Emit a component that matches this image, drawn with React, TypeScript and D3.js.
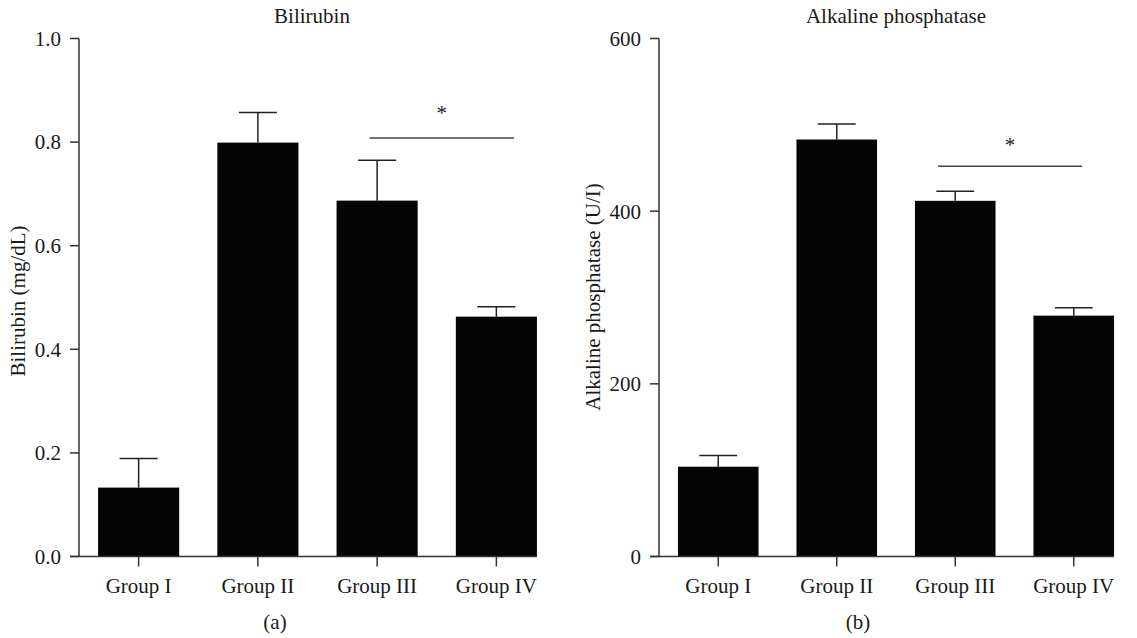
import React from "react";
import * as d3 from "d3";

const groups = ["Group I", "Group II", "Group III", "Group IV"];
const biliMean = [0.133, 0.799, 0.687, 0.463];
const biliErr = [0.056, 0.058, 0.078, 0.019];
const biliTicks = [0, 0.2, 0.4, 0.6, 0.8, 1.0];
const alpMean = [104, 483, 412, 279];
const alpErr = [13, 18, 11, 9];
const alpTicks = [0, 200, 400, 600];

type PanelProps = {
  x0: number; x1: number; axisX: number;
  mean: number[]; err: number[]; ticks: number[]; max: number;
  fmt: (v: number) => string; title: string; titleX: number; ylabel: string; ylabelX: number; ylabelY: number;
  sig: { from: number; to: number; y: number; starY: number; off1: number; off2: number };
  tag: string; tagX: number;
};

const FONT = "'Liberation Serif', 'DejaVu Serif', serif";
const FS = 21;
const Y_TOP = 38.5, Y_BOT = 556.5;

function Panel(p: PanelProps) {
  const y = d3.scaleLinear().domain([0, p.max]).range([Y_BOT, Y_TOP]);
  const x = d3.scaleBand().domain(groups).range([p.x0, p.x1]).paddingInner(0.32).paddingOuter(0.16);
  const bw = x.bandwidth();
  const capW = bw * 0.47;
  const lastRight = (x(groups[groups.length - 1]) as number) + bw;
  const cx = (g: string) => (x(g) as number) + bw / 2;
  const sigX1 = (x(groups[p.sig.from]) as number) + p.sig.off1;
  const sigX2 = (x(groups[p.sig.to]) as number) + bw - p.sig.off2;
  return (
    <g fontFamily={FONT} fill="#1a1a1a">
      <text x={p.titleX} y={23} textAnchor="middle" fontSize={FS}>{p.title}</text>
      {p.mean.map((m, i) => {
        const g = groups[i];
        return (
          <g key={g}>
            <line x1={cx(g)} x2={cx(g)} y1={y(m)} y2={y(m + p.err[i])} stroke="#222" strokeWidth={1.5} />
            <line x1={cx(g) - capW / 2} x2={cx(g) + capW / 2} y1={y(m + p.err[i])} y2={y(m + p.err[i])} stroke="#222" strokeWidth={1.5} />
            <rect x={x(g)} y={y(m)} width={bw} height={Y_BOT - y(m)} fill="#050505" />
          </g>
        );
      })}
      <line x1={p.axisX} x2={p.axisX} y1={Y_TOP} y2={Y_BOT} stroke="#333" strokeWidth={1.5} />
      <line x1={p.axisX - 9} x2={lastRight} y1={Y_BOT} y2={Y_BOT} stroke="#333" strokeWidth={1.5} />
      {p.ticks.map((t) => (
        <g key={t}>
          <line x1={p.axisX - 9} x2={p.axisX} y1={y(t)} y2={y(t)} stroke="#333" strokeWidth={1.5} />
          <text x={p.axisX - 18} y={y(t)} dy="0.35em" textAnchor="end" fontSize={FS}>{p.fmt(t)}</text>
        </g>
      ))}
      {groups.map((g) => (
        <g key={g}>
          <line x1={cx(g)} x2={cx(g)} y1={Y_BOT} y2={Y_BOT + 10} stroke="#333" strokeWidth={1.5} />
          <text x={cx(g)} y={Y_BOT + 36} textAnchor="middle" fontSize={FS}>{g}</text>
        </g>
      ))}
      <text transform={`translate(${p.ylabelX},${p.ylabelY}) rotate(-90)`} textAnchor="middle" fontSize={FS}>{p.ylabel}</text>
      <line x1={sigX1} x2={sigX2} y1={y(p.sig.y)} y2={y(p.sig.y)} stroke="#444" strokeWidth={1.5} />
      <text x={(sigX1 + sigX2) / 2} y={y(p.sig.starY)} textAnchor="middle" fontSize={FS}>*</text>
      <text x={p.tagX} y={629} textAnchor="middle" fontSize={FS}>{p.tag}</text>
    </g>
  );
}

export default function App() {
  return (
    <svg width={1137} height={638} style={{ position: "absolute", left: 0, top: 0, background: "#fff" }}>
      <Panel x0={79} x1={556} axisX={79} mean={biliMean} err={biliErr} ticks={biliTicks} max={1.0}
        fmt={(v) => v.toFixed(1)} title="Bilirubin" titleX={312} ylabel="Bilirubin (mg/dL)" ylabelX={25} ylabelY={301}
        sig={{ from: 2, to: 3, y: 0.808, starY: 0.843, off1: 33, off2: 23 }} tag="(a)" tagX={275} />
      <Panel x0={659} x1={1133} axisX={659} mean={alpMean} err={alpErr} ticks={alpTicks} max={600}
        fmt={(v) => String(v)} title="Alkaline phosphatase" titleX={896} ylabel="Alkaline phosphatase (U/I)" ylabelX={600} ylabelY={297}
        sig={{ from: 2, to: 3, y: 452, starY: 468, off1: 23, off2: 32 }} tag="(b)" tagX={858} />
    </svg>
  );
}
